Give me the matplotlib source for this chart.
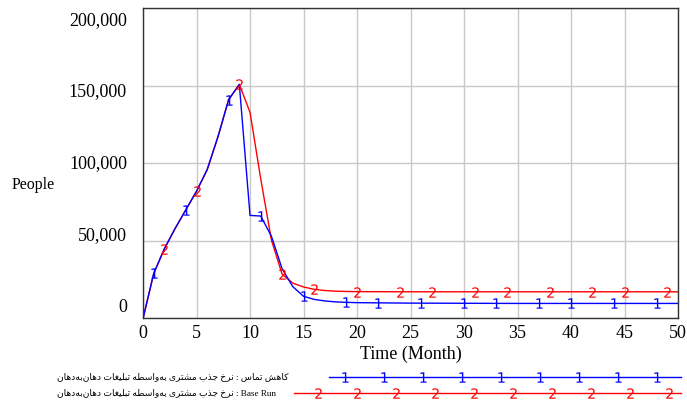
import matplotlib
matplotlib.use("Agg")
import matplotlib.pyplot as plt
import numpy as np

# --- DATA ---
months = [0, 1, 2, 3, 4, 5, 6, 7, 8, 9, 10, 11, 12, 13, 14, 15, 16, 17, 18, 19, 20,
          25, 30, 35, 40, 45, 50]
contact_cut = [0, 29000, 45000, 58000, 70000, 82000, 96000, 117000, 141000, 150800,
               66400, 66000, 53000, 32000, 20500, 14300, 12300, 11300, 10700, 10400, 10200,
               9900, 9800, 9700, 9700, 9700, 9700]
base_run = [0, 29000, 45000, 58000, 70000, 82000, 96000, 117000, 141000, 150800,
            132800, 90000, 50500, 28500, 22800, 20300, 18800, 18000, 17600, 17400, 17300,
            17200, 17200, 17200, 17200, 17200, 17200]
marks_1 = [1, 4, 8, 11, 15, 19, 22, 26, 30, 33, 37, 40, 44, 48]
marks_2 = [2, 5, 9, 13, 16, 20, 24, 27, 31, 34, 38, 42, 45, 49]
x_ticks = [0, 5, 10, 15, 20, 25, 30, 35, 40, 45, 50]
y_ticks = [0, 50000, 100000, 150000, 200000]

var_name = "نرخ جذب مشتری به\u200cواسطه تبلیغات دهان\u200cبه\u200cدهان"
run_1 = "کاهش تماس"
run_2 = "Base Run"

# --- minimal Persian shaping (matplotlib has no RTL / joining support) ---
FORMS = {
    '\u0627': ('\uFE8D', '\uFE8E', None, None),
    '\u0628': ('\uFE8F', '\uFE90', '\uFE91', '\uFE92'),
    '\u062A': ('\uFE95', '\uFE96', '\uFE97', '\uFE98'),
    '\u062C': ('\uFE9D', '\uFE9E', '\uFE9F', '\uFEA0'),
    '\u062E': ('\uFEA5', '\uFEA6', '\uFEA7', '\uFEA8'),
    '\u062F': ('\uFEA9', '\uFEAA', None, None),
    '\u0630': ('\uFEAB', '\uFEAC', None, None),
    '\u0631': ('\uFEAD', '\uFEAE', None, None),
    '\u0633': ('\uFEB1', '\uFEB2', '\uFEB3', '\uFEB4'),
    '\u0634': ('\uFEB5', '\uFEB6', '\uFEB7', '\uFEB8'),
    '\u0637': ('\uFEC1', '\uFEC2', '\uFEC3', '\uFEC4'),
    '\u063A': ('\uFECD', '\uFECE', '\uFECF', '\uFED0'),
    '\u0644': ('\uFEDD', '\uFEDE', '\uFEDF', '\uFEE0'),
    '\u0645': ('\uFEE1', '\uFEE2', '\uFEE3', '\uFEE4'),
    '\u0646': ('\uFEE5', '\uFEE6', '\uFEE7', '\uFEE8'),
    '\u0647': ('\uFEE9', '\uFEEA', '\uFEEB', '\uFEEC'),
    '\u0648': ('\uFEED', '\uFEEE', None, None),
    '\u06A9': ('\uFB8E', '\uFB8F', '\uFB90', '\uFB91'),
    '\u06CC': ('\uFBFC', '\uFBFD', '\uFBFE', '\uFBFF'),
}


def shape_fa(text):
    """Return the visual (left-to-right) string of a Persian phrase."""
    text = text.replace('\u0643', '\u06A9').replace('\u064A', '\u06CC')
    out = []
    for i, ch in enumerate(text):
        if ch not in FORMS:
            if ch != '\u200c':
                out.append(ch)
            continue
        prev = text[i - 1] if i > 0 else ''
        nxt = text[i + 1] if i + 1 < len(text) else ''
        join_prev = prev in FORMS and FORMS[prev][2] is not None
        join_next = FORMS[ch][2] is not None and nxt in FORMS
        iso, fin, ini, med = FORMS[ch]
        if join_prev and join_next:
            out.append(med)
        elif join_prev:
            out.append(fin)
        elif join_next:
            out.append(ini)
        else:
            out.append(iso)
    return ''.join(reversed(out))


SERIF = ['Liberation Serif', 'DejaVu Serif']
MIXED = ['Liberation Serif', 'DejaVu Sans']

fig = plt.figure(figsize=(6.87, 4.03), dpi=100)
ax = fig.add_axes([0.2082, 0.2097, 0.7787, 0.7703])

# --- lines ---
ax.plot(months, base_run, color='red', lw=1.0, zorder=3)
ax.plot(months, contact_cut, color='blue', lw=1.0, zorder=4)
ax.plot(marks_2, np.interp(marks_2, months, base_run), ls='none', marker='$2$',
        ms=7.5, color='red', mew=0, zorder=5)
ax.plot(marks_1, np.interp(marks_1, months, contact_cut), ls='none', marker='$1$',
        ms=7.5, color='blue', mew=0, zorder=5)

ax.set_xlim(0, 50)
ax.set_ylim(0, 200000)
ax.set_xticks(x_ticks)
ax.set_xticklabels([str(v) for v in x_ticks], family=SERIF, fontsize=13)
ax.set_yticks(y_ticks)
ax.set_yticklabels([])
ax.tick_params(length=0, pad=5)
ax.grid(True, color='#c8c8c8', lw=1.0)
ax.set_axisbelow(True)
for sp in ax.spines.values():
    sp.set_color('#333333')
    sp.set_linewidth(1.0)

# y labels are spread a bit tighter than the grid, like the original tool does
for v in y_ticks:
    ax.text(-0.030, 0.037 + 0.924 * v / 200000, f"{v:,}", transform=ax.transAxes,
            ha='right', va='center', family=SERIF, fontsize=13)

ax.set_xlabel("Time (Month)", family=SERIF, fontsize=13, labelpad=2)
fig.text(33 / 687, 1 - 185 / 403, "People", family=SERIF, fontsize=11.5,
         ha='center', va='center')

# --- legend below the chart ---
leg_y = [1 - 377 / 403, 1 - 393 / 403]
fig.text(57 / 687, leg_y[0], shape_fa(run_1 + " : " + var_name), family=MIXED,
         fontsize=6.55, ha='left', va='center')
fig.text(57 / 687, leg_y[1], shape_fa(var_name) + " : " + run_2, family=MIXED,
         fontsize=6.55, ha='left', va='center')

fig.add_artist(plt.Line2D([329 / 687, 681 / 687], [leg_y[0]] * 2, color='blue', lw=1.0))
fig.add_artist(plt.Line2D([294 / 687, 681 / 687], [leg_y[1]] * 2, color='red', lw=1.0))
for x in np.linspace(345, 657, 9):
    fig.add_artist(plt.Line2D([x / 687], [leg_y[0]], ls='none', marker='$1$', ms=7.5,
                              color='blue', mew=0))
for x in np.linspace(318, 669, 10):
    fig.add_artist(plt.Line2D([x / 687], [leg_y[1]], ls='none', marker='$2$', ms=7.5,
                              color='red', mew=0))

fig.savefig("out.png", dpi=100)
